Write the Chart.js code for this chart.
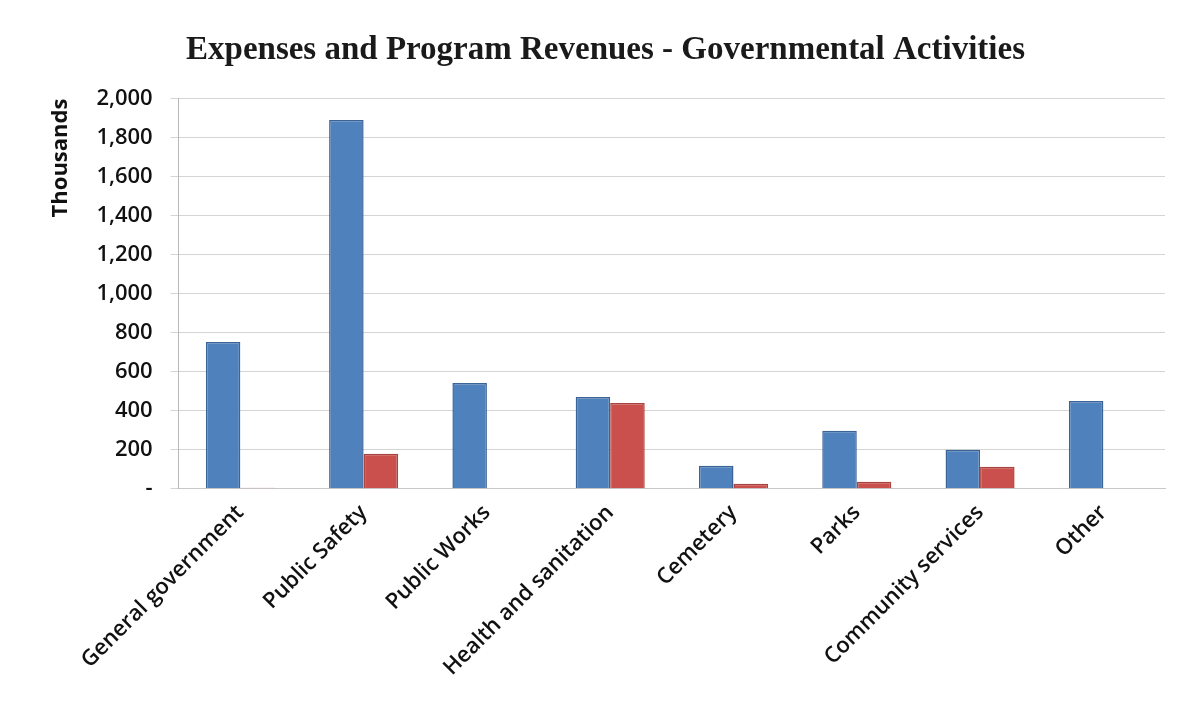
<!DOCTYPE html>
<html>
<head>
<meta charset="utf-8">
<script src="https://cdn.jsdelivr.net/npm/chart.js@4/dist/chart.umd.min.js"></script>
<style>
    body { margin: 0; background: #fff; }
    .wrap { width: 1191px; height: 708px; }
</style>
</head>
<body>
<div class="wrap"><canvas id="myChart" width="1191" height="708"></canvas></div>
<script>
const categories = ['General government', 'Public Safety', 'Public Works', 'Health and sanitation',
    'Cemetery', 'Parks', 'Community services', 'Other'];
const expenses = [752, 1890, 542, 470, 118, 297, 200, 450];
const revenues = [5, 180, 0, 440, 25, 36, 113, 0];
const yTicks = [0, 200, 400, 600, 800, 1000, 1200, 1400, 1600, 1800, 2000];

const ctx = document.getElementById('myChart');

new Chart(ctx, {
    type: 'bar',
    data: {
        labels: categories,
        datasets: [{
            label: 'Expenses',
            data: expenses,
            backgroundColor: '#4f81bd',
            borderColor: '#3b6395',
            borderWidth: 1.5,
            categoryPercentage: 0.56,
            barPercentage: 1
        }, {
            label: 'Program Revenues',
            data: revenues,
            backgroundColor: '#c9504c',
            borderColor: '#a8433f',
            borderWidth: 1.5,
            categoryPercentage: 0.56,
            barPercentage: 1
        }]
    },
    options: {
        responsive: false,
        animation: false,
        layout: { padding: { left: 46, right: 26, top: 21, bottom: 24 } },
        plugins: {
            legend: { display: false },
            tooltip: { enabled: false },
            title: {
                display: true,
                text: 'Expenses and Program Revenues - Governmental Activities',
                color: '#1a1a1a',
                font: { family: '"Liberation Serif", serif', size: 33, weight: 'bold' },
                padding: { top: 10, bottom: 28 }
            }
        },
        scales: {
            x: {
                grid: { display: false },
                border: { color: '#c8c8c8' },
                ticks: {
                    color: '#111',
                    maxRotation: 45,
                    minRotation: 45,
                    font: { family: '"Open Sans"', size: 22, weight: '600' }
                }
            },
            y: {
                min: 0,
                max: 2000,
                afterBuildTicks: axis => { axis.ticks = yTicks.map(v => ({ value: v })); },
                grid: { color: '#d4d4d4', tickLength: 8 },
                border: { color: '#b8b8b8' },
                ticks: {
                    color: '#111',
                    padding: 18,
                    font: { family: '"Open Sans"', size: 22, weight: '600' },
                    callback: v => v === 0 ? '-' : v.toLocaleString('en-US')
                },
                title: {
                    display: true,
                    text: 'Thousands',
                    align: 'end',
                    color: '#111',
                    font: { family: '"Open Sans"', size: 22, weight: 'bold' },
                    padding: { top: 2, bottom: 4 }
                }
            }
        }
    }
});
</script>
</body>
</html>
